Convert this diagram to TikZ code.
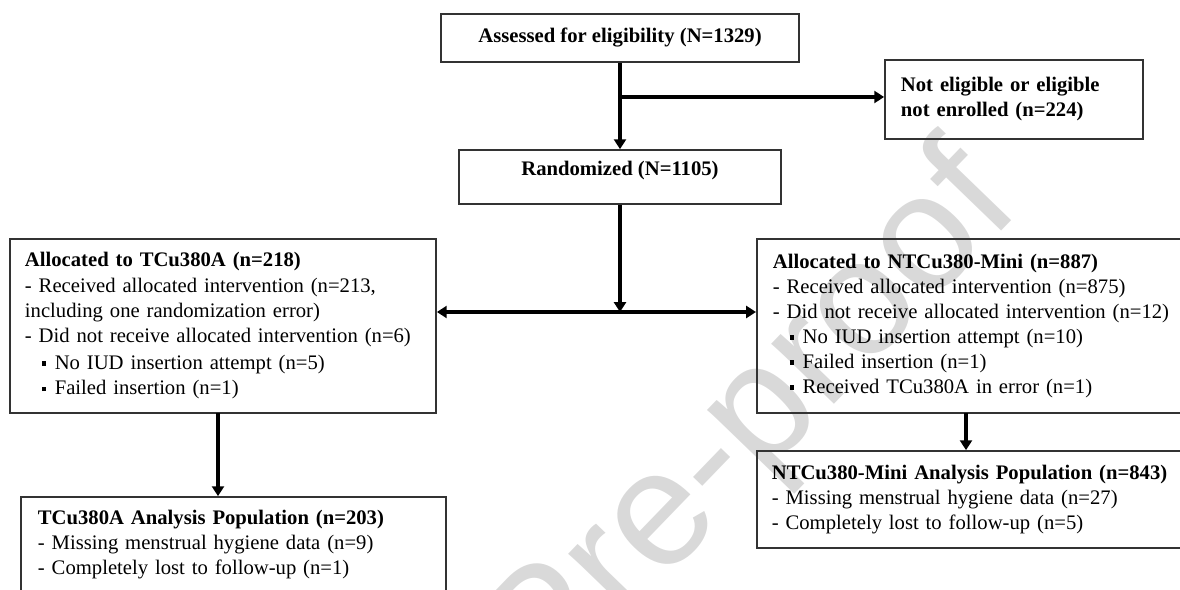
\documentclass[tikz,border=0pt]{standalone}
\usepackage{fontspec}
\setmainfont{Liberation Serif}
\newfontfamily\wmfont{Liberation Sans}
\usetikzlibrary{arrows.meta,calc}

\newcommand{\sqbul}{\hspace*{12pt}\rule[2.8pt]{3.2pt}{3.2pt}\hspace{6pt}}

\begin{document}
\begin{tikzpicture}[x=0.025cm,y=-0.025cm,
  every node/.style={font=\fontsize{14.7}{17.8}\selectfont},
  box/.style={draw=black!80,line width=1.2pt,inner ysep=0pt,align=left},
  flow/.style={line width=2.3pt,-{Triangle[length=7pt,width=8.5pt]}},
  both/.style={line width=2.3pt,{Triangle[length=7pt,width=8.5pt]}-{Triangle[length=7pt,width=8.5pt]}}]
\useasboundingbox (0,0) rectangle (1180,590);
% watermark
\node[font=\wmfont\fontsize{117}{117}\selectfont,text=black!15,rotate=46,anchor=base] (wmark) at (785,455) {Pre-proof};
% boxes
\node[box,align=center,minimum width=8.95cm,minimum height=1.2cm] (assess) at (620,38) {\textbf{Assessed for eligibility (N=1329)}};
\node[box,inner xsep=0.4cm,text width=5.65cm,minimum height=1.975cm] (inel) at (1014,99.5) {\textbf{Not eligible or eligible}\\\textbf{not enrolled (n=224)}};
\node[box,align=center,minimum width=8.05cm,minimum height=1.35cm,text depth=13pt] (rand) at (620,177) {\textbf{Randomized (N=1105)}};
\node[box,inner xsep=0.375cm,text width=9.9cm,minimum height=4.35cm] (lalloc) at (223,326) {\textbf{Allocated to TCu380A (n=218)}\\
- Received allocated intervention (n=213,\\
including one randomization error)\\
- Did not receive allocated intervention (n=6)\\[2pt]
\sqbul No IUD insertion attempt (n=5)\\
\sqbul Failed insertion (n=1)};
\node[box,anchor=west,inner xsep=0.4cm,text width=11cm,minimum height=4.35cm] (ralloc) at (756,326) {\textbf{Allocated to NTCu380-Mini (n=887)}\\
- Received allocated intervention (n=875)\\
- Did not receive allocated intervention (n=12)\\
\sqbul No IUD insertion attempt (n=10)\\
\sqbul Failed insertion (n=1)\\
\sqbul Received TCu380A in error (n=1)};
\node[box,inner xsep=0.425cm,text width=9.775cm,minimum height=2.375cm] (lana) at (233.5,544.5) {\textbf{TCu380A Analysis Population (n=203)}\\
- Missing menstrual hygiene data (n=9)\\
- Completely lost to follow-up (n=1)};
\node[box,anchor=west,inner xsep=0.375cm,text width=11cm,minimum height=2.425cm] (rana) at (756,499.5) {\textbf{NTCu380-Mini Analysis Population (n=843)}\\
- Missing menstrual hygiene data (n=27)\\
- Completely lost to follow-up (n=5)};
% connectors
\coordinate (brk) at (620,97);
\coordinate (split) at (620,312);
\coordinate (ldrop) at (218,413);
\coordinate (rdrop) at (966,413);
\draw[flow] (assess) -- (rand);
\draw[flow] (brk) -- (brk -| inel.west);
\draw[flow] (rand) -- (split);
\draw[both] (split -| lalloc.east) -- (split -| ralloc.west);
\draw[flow] (ldrop) -- (ldrop |- lana.north);
\draw[flow] (rdrop) -- (rdrop |- rana.north);
\end{tikzpicture}
\end{document}
